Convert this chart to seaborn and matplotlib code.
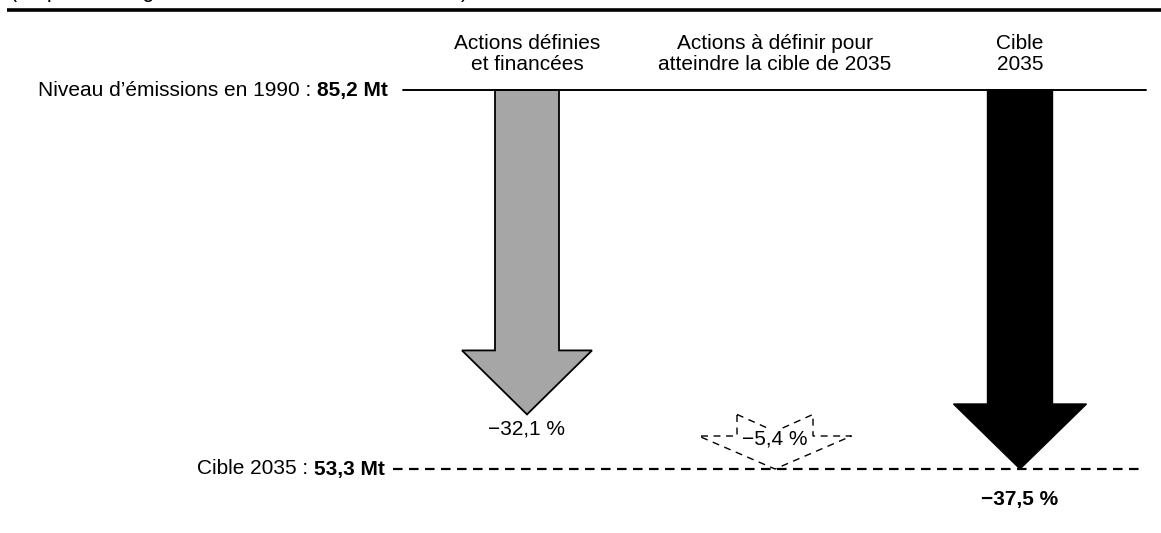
import matplotlib
matplotlib.use("Agg")
import matplotlib.pyplot as plt
from matplotlib.patches import Polygon
import seaborn as sns
import pandas as pd

# --- data -------------------------------------------------------------
categories = ["Actions définies\net financées",
              "Actions à définir pour\natteindre la cible de 2035",
              "Cible\n2035"]
reductions = [-32.1, -5.4, -37.5]          # % vs 1990 level
value_labels = ["−32,1 %", "−5,4 %", "−37,5 %"]
level_1990_mt = "85,2 Mt"
level_2035_mt = "53,3 Mt"
target_pct = -37.5

# --- style --------------------------------------------------------------
sns.set_theme(style="white")
plt.rcParams["font.family"] = ["Liberation Sans", "DejaVu Sans"]
plt.rcParams["text.color"] = "black"
FS = 15

W, H = 1161, 533
fig = plt.figure(figsize=(W / 100, H / 100), dpi=100)
ax = fig.add_axes([0, 0, 1, 1])
ax.set_axis_off()

# vertical scale: 0 % sits at row 90 px, -37.5 % at row 469 px
PX_PER_PCT = (469 - 90) / 37.5
ax.set_xlim(0, W)
ax.set_ylim(-(H - 90) / PX_PER_PCT, 90 / PX_PER_PCT)


def y_of(px):
    """Row in pixels from top -> axis y value."""
    return (90 - px) / PX_PER_PCT


centers = [527, 775, 1020]

# header rule and clipped caption
ax.plot([7, W], [y_of(9.5), y_of(9.5)], color="black", lw=2.6,
        solid_capstyle="butt")
ax.text(10, y_of(-3.5), "(en pourcentage des émissions totales de 1990)",
        fontsize=15.5, ha="left", va="baseline")

# reference levels
lines = pd.DataFrame({"x": [403, 1146, 393, 1140],
                      "y": [0, 0, target_pct, target_pct],
                      "niveau": ["1990", "1990", "2035", "2035"]})
sns.lineplot(data=lines[lines.niveau == "1990"], x="x", y="y", ax=ax,
             color="black", lw=1.4, legend=False)
sns.lineplot(data=lines[lines.niveau == "2035"], x="x", y="y", ax=ax,
             color="black", lw=1.6, legend=False,
             linestyle=(0, (4.3, 2.9)))


def level_label(x_right, y, normal, bold):
    t_bold = ax.text(x_right, y, bold, fontsize=FS, fontweight="bold",
                     ha="right", va="center")
    ax.annotate(normal, xy=(0, 0), xycoords=t_bold, xytext=(-4, 0),
                textcoords="offset points", ha="right", va="bottom",
                fontsize=FS)


level_label(388, 0, "Niveau d’émissions en 1990 :", level_1990_mt)
level_label(385, target_pct, "Cible 2035 :", level_2035_mt)


def arrow(cx, top, tip, shaft_half, head_half, head_len_px, notch_px=0.0,
          **kw):
    hb = tip + head_len_px / PX_PER_PCT
    pts = [(cx - shaft_half, top)]
    if notch_px:
        pts.append((cx, top - notch_px / PX_PER_PCT))
    pts += [(cx + shaft_half, top), (cx + shaft_half, hb),
            (cx + head_half, hb), (cx, tip), (cx - head_half, hb),
            (cx - shaft_half, hb)]
    ax.add_patch(Polygon(pts, closed=True, **kw))


# defined & funded actions
arrow(centers[0], 0, reductions[0], 32, 65, 64,
      facecolor="#a6a6a6", edgecolor="black", lw=1.3, joinstyle="miter")
# actions still to be defined (stacked below the first arrow)
arrow(centers[1], reductions[0], reductions[0] + reductions[1], 38, 76.5, 33,
      notch_px=17, facecolor="none", edgecolor="black", lw=1.0,
      linestyle=(0, (5, 4)))
# 2035 target
arrow(centers[2], 0, reductions[2], 32.5, 66.5, 65,
      facecolor="black", edgecolor="black", lw=1.0)

# column headers
for cx, cat in zip(centers, categories):
    ax.text(cx, y_of(54), cat, fontsize=FS, ha="center", va="center",
            multialignment="center", linespacing=1.1)

# value labels
ax.text(centers[0], y_of(429), value_labels[0], fontsize=FS,
        ha="center", va="center")
ax.text(centers[1], y_of(439), value_labels[1], fontsize=FS,
        ha="center", va="center",
        bbox=dict(facecolor="white", edgecolor="none", pad=0.5))
ax.text(centers[2], y_of(500), value_labels[2], fontsize=FS,
        fontweight="bold", ha="center", va="center")

fig.savefig("out.png", dpi=100, facecolor="white")
